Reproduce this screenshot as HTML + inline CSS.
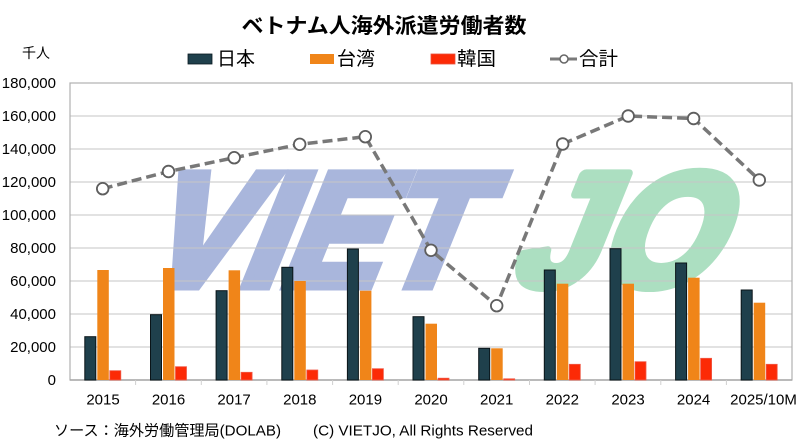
<!DOCTYPE html>
<html>
<head>
<meta charset="utf-8">
<style>
html,body{margin:0;padding:0;background:#fff;}
svg{display:block;}
text{font-family:"Liberation Sans","Noto Sans CJK JP",sans-serif;}
</style>
</head>
<body>
<svg width="800" height="444" viewBox="0 0 800 444" xmlns="http://www.w3.org/2000/svg">
<rect x="0" y="0" width="800" height="444" fill="#fff"/>

<!-- Title -->
<text x="384" y="33" font-size="21" font-weight="bold" text-anchor="middle" textLength="285" lengthAdjust="spacingAndGlyphs" fill="#000">ベトナム人海外派遣労働者数</text>

<!-- Unit -->
<text x="22" y="58" font-size="14" fill="#000" textLength="28" lengthAdjust="spacingAndGlyphs">千人</text>

<!-- Legend -->
<rect x="188" y="54" width="24" height="10" fill="#1f404c" stroke="#0a1a20" stroke-width="0.8"/>
<text x="217" y="65" font-size="19" fill="#000" textLength="38" lengthAdjust="spacingAndGlyphs">日本</text>
<rect x="310" y="54" width="24" height="10" fill="#f08519"/>
<text x="337" y="65" font-size="19" fill="#000" textLength="38" lengthAdjust="spacingAndGlyphs">台湾</text>
<rect x="431" y="54" width="24" height="10" fill="#fc2a06" stroke="#e8503a" stroke-width="0.8"/>
<text x="457" y="65" font-size="19" fill="#000" textLength="39" lengthAdjust="spacingAndGlyphs">韓国</text>
<line x1="550" y1="59" x2="577" y2="59" stroke="#7a7a7a" stroke-width="3"/>
<circle cx="564" cy="59" r="4" fill="#fff" stroke="#666" stroke-width="1.5"/>
<text x="579" y="65" font-size="19" fill="#000" textLength="39" lengthAdjust="spacingAndGlyphs">合計</text>

<!-- Watermark -->
<g transform="translate(0,285) skewX(-22)">
  <text x="138" y="0" font-size="160" font-weight="bold" fill="#a9b6dc" stroke="#a9b6dc" stroke-width="11" stroke-linejoin="miter" textLength="326" lengthAdjust="spacingAndGlyphs">VIET</text>
  <text x="508" y="0" font-size="160" font-weight="bold" fill="#acdfc1" stroke="#acdfc1" stroke-width="11" stroke-linejoin="round" textLength="204" lengthAdjust="spacingAndGlyphs">JO</text>
</g>

<!-- Gridlines -->
<g stroke="#c6c6c6" stroke-width="1">
  <line x1="70" y1="116" x2="792" y2="116"/>
  <line x1="70" y1="149" x2="792" y2="149"/>
  <line x1="70" y1="182" x2="792" y2="182"/>
  <line x1="70" y1="215" x2="792" y2="215"/>
  <line x1="70" y1="248" x2="792" y2="248"/>
  <line x1="70" y1="281" x2="792" y2="281"/>
  <line x1="70" y1="314" x2="792" y2="314"/>
  <line x1="70" y1="347" x2="792" y2="347"/>
</g>
<!-- Plot border -->
<rect x="70" y="83" width="722" height="297" fill="none" stroke="#b0b0b0" stroke-width="1.2"/>
<line x1="70" y1="380" x2="792" y2="380" stroke="#a8a8a8" stroke-width="1.5"/>
<!-- ticks -->
<g stroke="#d0d0d0" stroke-width="1">
  <line x1="135.6" y1="380" x2="135.6" y2="385"/>
  <line x1="201.3" y1="380" x2="201.3" y2="385"/>
  <line x1="266.9" y1="380" x2="266.9" y2="385"/>
  <line x1="332.6" y1="380" x2="332.6" y2="385"/>
  <line x1="398.2" y1="380" x2="398.2" y2="385"/>
  <line x1="463.8" y1="380" x2="463.8" y2="385"/>
  <line x1="529.5" y1="380" x2="529.5" y2="385"/>
  <line x1="595.1" y1="380" x2="595.1" y2="385"/>
  <line x1="660.8" y1="380" x2="660.8" y2="385"/>
  <line x1="726.4" y1="380" x2="726.4" y2="385"/>
</g>

<!-- Y labels -->
<g font-size="15" fill="#000" text-anchor="end">
  <text x="56" y="88">180,000</text>
  <text x="56" y="121">160,000</text>
  <text x="56" y="154">140,000</text>
  <text x="56" y="187">120,000</text>
  <text x="56" y="220">100,000</text>
  <text x="56" y="253">80,000</text>
  <text x="56" y="286">60,000</text>
  <text x="56" y="319">40,000</text>
  <text x="56" y="352">20,000</text>
  <text x="56" y="385">0</text>
</g>

<!-- Bars: Japan (navy) -->
<g fill="#1f404c" stroke="#0a1418" stroke-width="1">
  <rect x="84.8" y="336.7" width="11" height="43.3"/>
  <rect x="150.5" y="314.7" width="11" height="65.3"/>
  <rect x="216.1" y="290.7" width="11" height="89.3"/>
  <rect x="281.8" y="267.3" width="11" height="112.7"/>
  <rect x="347.4" y="249" width="11" height="131"/>
  <rect x="413.0" y="316.7" width="11" height="63.3"/>
  <rect x="478.7" y="348.3" width="11" height="31.7"/>
  <rect x="544.3" y="270" width="11" height="110"/>
  <rect x="610.0" y="248.7" width="11" height="131.3"/>
  <rect x="675.6" y="263" width="11" height="117"/>
  <rect x="741.2" y="290" width="11" height="90"/>
</g>
<!-- Bars: Taiwan (orange) -->
<g fill="#f08519">
  <rect x="97.3" y="270" width="11.5" height="110"/>
  <rect x="163.0" y="268" width="11.5" height="112"/>
  <rect x="228.6" y="270.3" width="11.5" height="109.7"/>
  <rect x="294.3" y="281" width="11.5" height="99"/>
  <rect x="359.9" y="290.7" width="11.5" height="89.3"/>
  <rect x="425.5" y="323.7" width="11.5" height="56.3"/>
  <rect x="491.2" y="348.3" width="11.5" height="31.7"/>
  <rect x="556.8" y="283.7" width="11.5" height="96.3"/>
  <rect x="622.5" y="283.7" width="11.5" height="96.3"/>
  <rect x="688.1" y="277.7" width="11.5" height="102.3"/>
  <rect x="753.7" y="302.7" width="11.5" height="77.3"/>
</g>
<!-- Bars: Korea (red) -->
<g fill="#fc2a06" stroke="#f05a48" stroke-width="0.8">
  <rect x="109.8" y="370.7" width="11" height="9.3"/>
  <rect x="175.5" y="366.7" width="11" height="13.3"/>
  <rect x="241.1" y="372.3" width="11" height="7.7"/>
  <rect x="306.8" y="370" width="11" height="10"/>
  <rect x="372.4" y="368.7" width="11" height="11.3"/>
  <rect x="438.0" y="378.2" width="11" height="1.8"/>
  <rect x="503.7" y="378.8" width="11" height="1.2"/>
  <rect x="569.3" y="364.3" width="11" height="15.7"/>
  <rect x="635.0" y="361.7" width="11" height="18.3"/>
  <rect x="700.6" y="358.3" width="11" height="21.7"/>
  <rect x="766.2" y="364.3" width="11" height="15.7"/>
</g>

<!-- Total line -->
<polyline points="102.7,188.7 168.5,171.5 234.2,157.7 299.7,144.3 365.3,136.7 431,250.3 496.7,305.7 562.7,144 628.2,116 693.6,118.5 759.3,180" fill="none" stroke="#787878" stroke-width="3.5" stroke-dasharray="10,5"/>
<g fill="#fff" stroke="#5e5e5e" stroke-width="1.8">
  <circle cx="102.7" cy="188.7" r="5.8"/>
  <circle cx="168.5" cy="171.5" r="5.8"/>
  <circle cx="234.2" cy="157.7" r="5.8"/>
  <circle cx="299.7" cy="144.3" r="5.8"/>
  <circle cx="365.3" cy="136.7" r="5.8"/>
  <circle cx="431" cy="250.3" r="5.8"/>
  <circle cx="496.7" cy="305.7" r="5.8"/>
  <circle cx="562.7" cy="144" r="5.8"/>
  <circle cx="628.2" cy="116" r="5.8"/>
  <circle cx="693.6" cy="118.5" r="5.8"/>
  <circle cx="759.3" cy="180" r="5.8"/>
</g>

<!-- X labels -->
<g font-size="15" fill="#000" text-anchor="middle">
  <text x="103" y="404.5">2015</text>
  <text x="168.5" y="404.5">2016</text>
  <text x="234.1" y="404.5">2017</text>
  <text x="299.8" y="404.5">2018</text>
  <text x="365.4" y="404.5">2019</text>
  <text x="431" y="404.5">2020</text>
  <text x="496.7" y="404.5">2021</text>
  <text x="562.3" y="404.5">2022</text>
  <text x="628" y="404.5">2023</text>
  <text x="693.6" y="404.5">2024</text>
  <text x="763.5" y="404.5">2025/10M</text>
</g>

<!-- Footer -->
<text x="54" y="435.5" font-size="15" fill="#000" textLength="227" lengthAdjust="spacingAndGlyphs">ソース：海外労働管理局(DOLAB)</text>
<text x="313" y="435.5" font-size="15" fill="#000" textLength="220" lengthAdjust="spacingAndGlyphs">(C) VIETJO, All Rights Reserved</text>
</svg>
</body>
</html>
